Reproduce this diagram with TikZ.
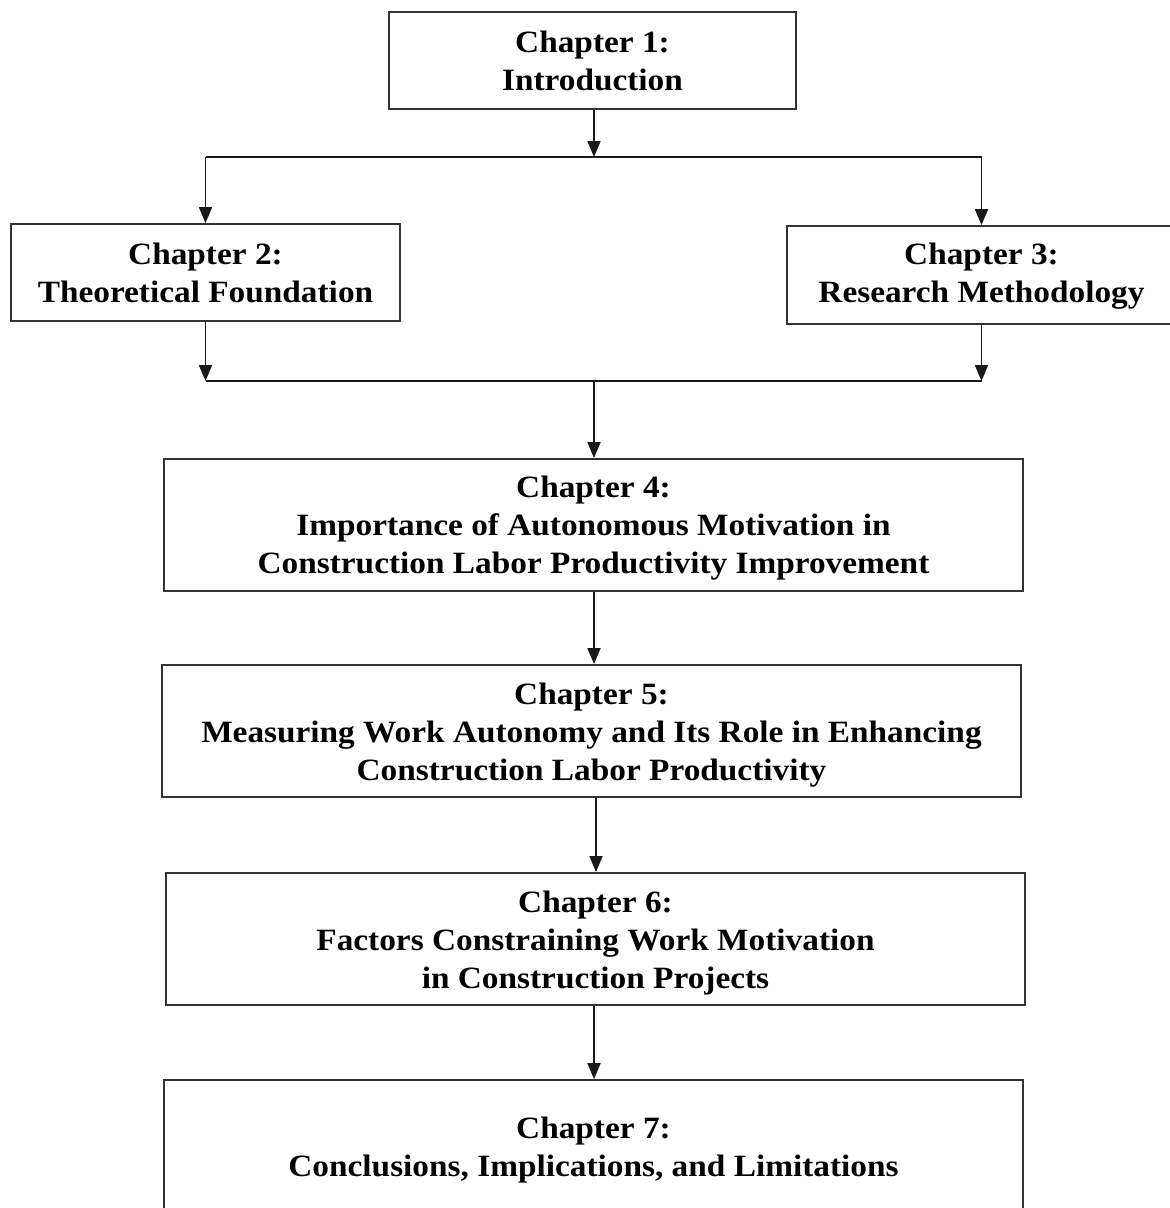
\documentclass[tikz,border=0pt]{standalone}
\usepackage{fontspec}
\setmainfont{Liberation Serif}[FakeStretch=1.075]
\usetikzlibrary{arrows.meta}
% raise the height of a first text line so the block sits a little lower
\newcommand{\lowerby}[1]{\rule{0pt}{#1}}
\begin{document}
\begin{tikzpicture}[x=1pt,y=-1pt,
  chapbox/.style={draw=black!80, line width=1.8pt, fill=white, align=center,
    inner sep=0pt, font=\bfseries\fontsize{31}{38}\selectfont},
  link/.style={draw=black!90, line width=1.8pt},
  arr/.style={link, -{Triangle[length=16pt,width=13pt]}}]
\useasboundingbox (0,0) rectangle (1170,1208);
\clip (0,0) rectangle (1170,1208);

% chapter boxes
\node[chapbox, minimum width=407pt, minimum height=97pt] (c1) at (592.5,60.5)
  {\lowerby{23pt}Chapter 1:\\Introduction};
\node[chapbox, minimum width=389pt, minimum height=97pt] (c2) at (205.5,272.5)
  {\lowerby{23pt}Chapter 2:\\Theoretical Foundation};
\node[chapbox, minimum width=389pt, minimum height=98pt] (c3) at (981.5,275)
  {\lowerby{24pt}Chapter 3:\\Research Methodology};
\node[chapbox, minimum width=859pt, minimum height=132pt] (c4) at (593.5,525)
  {\lowerby{28pt}Chapter 4:\\Importance of Autonomous Motivation in\\Construction Labor Productivity Improvement};
\node[chapbox, minimum width=859pt, minimum height=132pt] (c5) at (591.5,731)
  {\lowerby{29pt}Chapter 5:\\Measuring Work Autonomy and Its Role in Enhancing\\Construction Labor Productivity};
\node[chapbox, minimum width=859pt, minimum height=132pt] (c6) at (595.5,939)
  {\lowerby{29pt}Chapter 6:\\Factors Constraining Work Motivation\\in Construction Projects};
\node[chapbox, minimum width=859pt, minimum height=134pt] (c7) at (593.5,1147)
  {\lowerby{27pt}Chapter 7:\\Conclusions, Implications, and Limitations};

% junction points of the split and merge bars
\coordinate (s) at (594,157);
\coordinate (sl) at (205.5,157);
\coordinate (sr) at (981.5,157);
\coordinate (m) at (594,381);
\coordinate (ml) at (205.5,381);
\coordinate (mr) at (981.5,381);
\coordinate (k) at (596,0);

% split after chapter 1
\draw[arr] (c1.south -| s) -- (s);
\draw[link] (sl) -- (sr);
\draw[arr] (sl) -- (c2.north);
\draw[arr] (sr) -- (c3.north);

% merge before chapter 4
\draw[arr] (c2.south) -- (ml);
\draw[arr] (c3.south) -- (mr);
\draw[link] (ml) -- (mr);
\draw[arr] (m) -- (c4.north -| m);

% sequential chapters
\draw[arr] (c4.south -| m) -- (c5.north -| m);
\draw[arr] (c5.south -| k) -- (c6.north -| k);
\draw[arr] (c6.south -| m) -- (c7.north -| m);
\end{tikzpicture}
\end{document}
